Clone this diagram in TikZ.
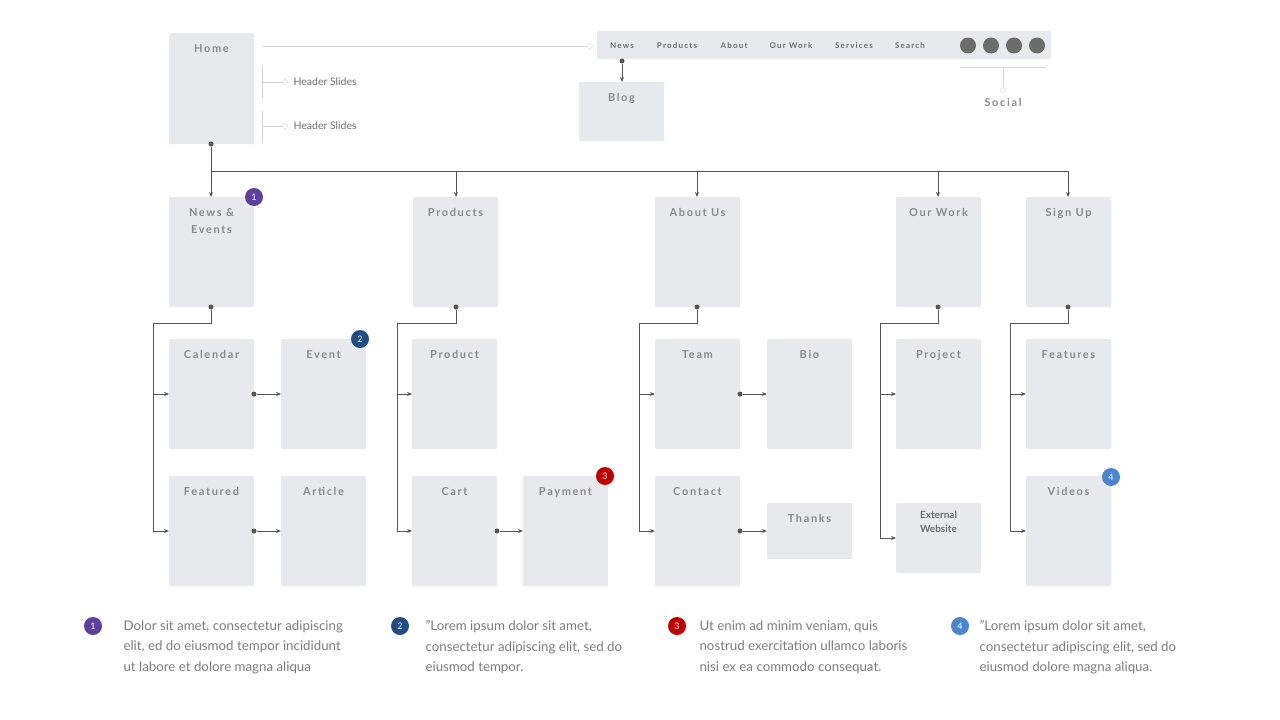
\documentclass[tikz,border=0pt]{standalone}
\usepackage{fontspec}
\setmainfont{Lato}
\newfontfamily\titlefont[LetterSpace=15]{Lato Bold}
\usetikzlibrary{arrows.meta}
\definecolor{boxgray}{HTML}{E8E9EC}
\definecolor{txtgray}{HTML}{8A8A8E}
\definecolor{linegray}{HTML}{555555}
\definecolor{thingray}{HTML}{D4D4D4}
\definecolor{bpurple}{HTML}{5C3F9F}
\definecolor{bnavy}{HTML}{1F4E85}
\definecolor{bred}{HTML}{C00000}
\definecolor{bblue}{HTML}{4A86D0}
\tikzset{
  page/.style={fill=boxgray, draw=none, rounded corners=1pt},
  title/.style={font=\titlefont\fontsize{11}{17}\selectfont, text=txtgray, align=center},
  conn/.style={draw=linegray, line width=0.8pt, -{Stealth[length=5pt,width=4pt]}},
  dot/.style={circle, fill=linegray, inner sep=0pt, minimum size=5pt},
  badge/.style={circle, fill=#1, text=white, inner sep=0pt, minimum size=18pt, font=\fontsize{9}{9}\selectfont},
  note/.style={anchor=north west, align=left, text=txtgray!90!black, font=\fontsize{13.3}{20.5}\selectfont},
}
\newcommand{\pagebox}[6]{% name, x1, y1, x2, y2, title
  \fill[page] (#2,#3) rectangle (#4,#5);
  \coordinate (#1) at ({(#2+#4)/2},#3);
  \node[title, anchor=north] (#1t) at ({(#2+#4)/2},{#3+8}) {#6};}
\begin{document}
\begin{tikzpicture}[x=1pt,y=-1pt]
  \useasboundingbox (0,0) rectangle (1280,720);

  % Header
  \pagebox{home}{169}{33}{254}{144}{Home}
  \fill[page] (597,31) rectangle (1051,59);
  \foreach \x/\t in {622/News,677/Products,734/About,791/Our Work,854/Services,910/Search}
    \node[font=\titlefont\fontsize{8}{8}\selectfont, text=txtgray!80!black] at (\x,45.5) {\t};
  \foreach \x in {968,991,1014,1037}
    \fill[gray!85!black] (\x,45.5) circle (8);
  \pagebox{blog}{579}{82}{664}{141}{Blog}
  \draw[thingray, line width=0.8pt] (262,46) -- (587,46);
  \draw[thingray, fill=white] (590,46) circle (2.5);
  \foreach \ya/\yb/\y in {66/98/82,111/143/126} {
    \draw[thingray, line width=0.8pt] (262,\ya) -- (262,\yb) (262,\y) -- (282.5,\y);
    \draw[thingray, fill=white] (285,\y) circle (2.5);
    \node[anchor=west, text=txtgray!80!black, font=\fontsize{10.5}{10}\selectfont] at (290,\y) {Header Slides};
  }
  \draw[thingray, line width=0.8pt] (960,67) -- (1046,67) (1003,67) -- (1003,87.5);
  \draw[thingray, fill=white] (1003,90) circle (2.5);
  \node[title] (social) at (1003,102) {Social};
  \node[dot] (blogdot) at (622,61) {};
  \draw[conn] (blogdot) -- (622,82);

  % Main sections
  \pagebox{news}{169}{197}{254}{307}{News \&\\Events}
  \pagebox{prod}{413}{197}{498}{307}{Products}
  \pagebox{about}{655}{197}{740}{307}{About Us}
  \pagebox{work}{896}{197}{981}{307}{Our Work}
  \pagebox{sign}{1026}{197}{1111}{307}{Sign Up}
  \node[dot] (homedot) at (211,144) {};
  \draw[linegray, line width=0.8pt] (homedot) -- (211,171) -- (1068,171);
  \foreach \x in {211,456,697,938,1068}
    \draw[conn] (\x,171) -- (\x,197);

  % Sub pages
  \pagebox{cal}{169}{339}{254}{449}{Calendar}
  \pagebox{event}{281}{339}{366}{449}{Event}
  \pagebox{feat}{169}{476}{254}{586}{Featured}
  \pagebox{art}{281}{476}{366}{586}{Article}
  \pagebox{product}{412}{339}{497}{449}{Product}
  \pagebox{cart}{412}{476}{497}{586}{Cart}
  \pagebox{pay}{523}{476}{608}{586}{Payment}
  \pagebox{team}{655}{339}{740}{449}{Team}
  \pagebox{bio}{767}{339}{852}{449}{Bio}
  \pagebox{contact}{655}{476}{740}{586}{Contact}
  \pagebox{thanks}{767}{503}{852}{559}{Thanks}
  \pagebox{project}{896}{339}{981}{449}{Project}
  \fill[page] (896,503) rectangle (981,573);
  \node[font=\bfseries\fontsize{10}{14}\selectfont, text=txtgray!80!black, align=center, anchor=north] (ext) at (938.5,508) {External\\Website};
  \pagebox{feats}{1026}{339}{1111}{449}{Features}
  \pagebox{videos}{1026}{476}{1111}{586}{Videos}

  % Column connectors
  \foreach \cx/\lx/\bx/\ya/\yb in {211/153/169/394/531, 456/397/412/394/531, 697/639/655/394/531, 938/880/896/394/538, 1068/1010/1026/394/531} {
    \node[dot] (d\cx) at (\cx,307) {};
    \draw[linegray, line width=0.8pt] (d\cx) -- (\cx,323) -- (\lx,323) -- (\lx,\yb);
    \draw[conn] (\lx,\ya) -- (\bx,\ya);
    \draw[conn] (\lx,\yb) -- (\bx,\yb);
  }
  \foreach \xa/\xb/\y in {254/281/394, 254/281/531, 497/523/531, 740/767/394, 740/767/531} {
    \node[dot] (s\xa\y) at (\xa,\y) {};
    \draw[conn] (s\xa\y) -- (\xb,\y);
  }

  % Badges
  \node[badge=bpurple] (b1) at (254,197) {1};
  \node[badge=bnavy] (b2) at (360,339) {2};
  \node[badge=bred] (b3) at (605,476) {3};
  \node[badge=bblue] (b4) at (1111,477) {4};

  % Notes
  \node[badge=bpurple] (n1) at (93,626) {1};
  \node[badge=bnavy] (n2) at (400,626) {2};
  \node[badge=bred] (n3) at (677,626) {3};
  \node[badge=bblue] (n4) at (960,626) {4};
  \node[note] at (120,617) {Dolor sit amet, consectetur adipiscing\\elit, ed do eiusmod tempor incididunt\\ut labore et dolore magna aliqua};
  \node[note] at (422,617) {\symbol{34}Lorem ipsum dolor sit amet,\\consectetur adipiscing elit, sed do\\eiusmod tempor.};
  \node[note] at (696,617) {Ut enim ad minim veniam, quis\\nostrud exercitation ullamco laboris\\nisi ex ea commodo consequat.};
  \node[note] at (976,617) {\symbol{34}Lorem ipsum dolor sit amet,\\consectetur adipiscing elit, sed do\\eiusmod dolore magna aliqua.};
\end{tikzpicture}
\end{document}
